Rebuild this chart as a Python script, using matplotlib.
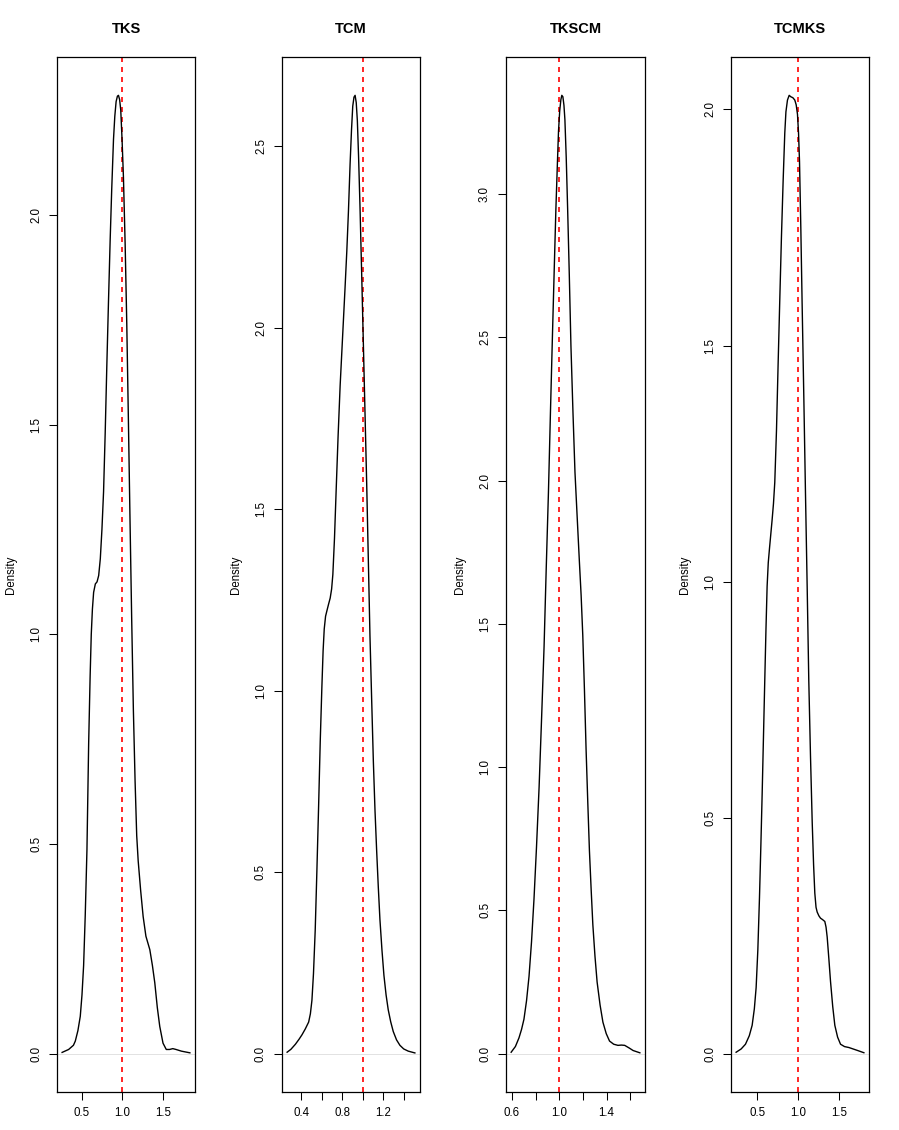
import matplotlib
matplotlib.use("Agg")
import matplotlib.pyplot as plt

plt.rcParams['font.family'] = ['Liberation Sans', 'DejaVu Sans']

# density curves (x, density)
tks_x = [0.261, 0.341, 0.400, 0.423, 0.455, 0.484, 0.505, 0.525, 0.545, 0.566, 0.587,
         0.605, 0.619, 0.633, 0.648, 0.669, 0.690, 0.710, 0.730, 0.750, 0.770, 0.790,
         0.810, 0.830, 0.851, 0.870, 0.892, 0.908, 0.924, 0.940, 0.953, 0.967, 0.981,
         0.997, 1.014, 1.035, 1.055, 1.075, 1.095, 1.115, 1.136, 1.157, 1.177, 1.195,
         1.225, 1.256, 1.290, 1.338, 1.370, 1.399, 1.430, 1.460, 1.500, 1.540, 1.580,
         1.620, 1.660, 1.726, 1.830]
tks_y = [0.003, 0.010, 0.020, 0.030, 0.055, 0.089, 0.140, 0.210, 0.330, 0.486, 0.740,
         0.900, 1.000, 1.060, 1.100, 1.120, 1.125, 1.140, 1.180, 1.250, 1.340, 1.480,
         1.640, 1.790, 1.940, 2.060, 2.180, 2.235, 2.270, 2.283, 2.285, 2.275, 2.250,
         2.180, 2.090, 1.930, 1.740, 1.510, 1.270, 1.040, 0.820, 0.650, 0.520, 0.460,
         0.390, 0.327, 0.280, 0.248, 0.210, 0.169, 0.110, 0.065, 0.025, 0.010, 0.010,
         0.012, 0.010, 0.006, 0.002]

tcm_x = [0.263, 0.300, 0.344, 0.380, 0.408, 0.440, 0.473, 0.490, 0.505, 0.520, 0.537,
         0.553, 0.570, 0.586, 0.602, 0.614, 0.625, 0.638, 0.651, 0.667, 0.683, 0.697,
         0.709, 0.725, 0.741, 0.760, 0.780, 0.796, 0.812, 0.828, 0.845, 0.861, 0.877,
         0.891, 0.903, 0.915, 0.926, 0.937, 0.948, 0.960, 0.974, 0.990, 1.007, 1.023,
         1.039, 1.055, 1.071, 1.088, 1.104, 1.120, 1.136, 1.152, 1.168, 1.188, 1.207,
         1.228, 1.249, 1.273, 1.298, 1.330, 1.363, 1.400, 1.444, 1.509]
tcm_y = [0.004, 0.012, 0.026, 0.040, 0.052, 0.068, 0.087, 0.110, 0.147, 0.220, 0.340,
         0.500, 0.680, 0.860, 1.010, 1.110, 1.170, 1.205, 1.220, 1.238, 1.255, 1.280,
         1.320, 1.420, 1.550, 1.700, 1.840, 1.930, 2.020, 2.110, 2.210, 2.320, 2.450,
         2.545, 2.610, 2.635, 2.640, 2.620, 2.570, 2.470, 2.330, 2.150, 1.950, 1.760,
         1.570, 1.360, 1.150, 0.970, 0.805, 0.670, 0.560, 0.460, 0.370, 0.285, 0.216,
         0.162, 0.121, 0.088, 0.061, 0.038, 0.023, 0.013, 0.007, 0.002]

tkscm_x = [0.594, 0.630, 0.660, 0.682, 0.702, 0.724, 0.745, 0.766, 0.787, 0.808, 0.830,
           0.851, 0.872, 0.890, 0.909, 0.926, 0.943, 0.958, 0.972, 0.984, 0.994, 1.004,
           1.014, 1.022, 1.031, 1.040, 1.048, 1.059, 1.071, 1.085, 1.099, 1.116, 1.133,
           1.152, 1.170, 1.185, 1.199, 1.213, 1.227, 1.241, 1.255, 1.270, 1.284, 1.302,
           1.320, 1.345, 1.369, 1.397, 1.425, 1.460, 1.496, 1.525, 1.553, 1.590, 1.624,
           1.681]
tkscm_y = [0.005, 0.025, 0.055, 0.085, 0.120, 0.185, 0.270, 0.390, 0.540, 0.720, 0.930,
           1.170, 1.420, 1.690, 1.960, 2.240, 2.510, 2.740, 2.950, 3.100, 3.220, 3.290,
           3.330, 3.345, 3.340, 3.310, 3.260, 3.130, 2.950, 2.720, 2.470, 2.240, 2.030,
           1.870, 1.720, 1.600, 1.460, 1.270, 1.060, 0.880, 0.710, 0.570, 0.450, 0.340,
           0.250, 0.170, 0.110, 0.070, 0.044, 0.033, 0.029, 0.030, 0.029, 0.020, 0.011,
           0.003]

tcmks_x = [0.238, 0.300, 0.353, 0.400, 0.435, 0.462, 0.484, 0.505, 0.525, 0.542, 0.558,
           0.574, 0.590, 0.605, 0.619, 0.633, 0.648, 0.664, 0.680, 0.697, 0.713, 0.734,
           0.754, 0.775, 0.795, 0.816, 0.836, 0.850, 0.869, 0.890, 0.910, 0.935, 0.959,
           0.976, 0.992, 1.005, 1.017, 1.033, 1.049, 1.070, 1.090, 1.111, 1.131, 1.152,
           1.173, 1.190, 1.205, 1.220, 1.234, 1.255, 1.275, 1.300, 1.328, 1.343, 1.357,
           1.378, 1.398, 1.425, 1.451, 1.485, 1.521, 1.570, 1.624, 1.726, 1.808]
tcmks_y = [0.003, 0.010, 0.020, 0.038, 0.060, 0.095, 0.140, 0.220, 0.330, 0.440, 0.550,
           0.670, 0.790, 0.900, 0.990, 1.040, 1.070, 1.100, 1.130, 1.165, 1.210, 1.320,
           1.460, 1.600, 1.730, 1.850, 1.950, 1.995, 2.020, 2.030, 2.027, 2.025, 2.020,
           2.010, 1.990, 1.950, 1.890, 1.750, 1.590, 1.390, 1.190, 0.990, 0.790, 0.630,
           0.490, 0.400, 0.340, 0.310, 0.300, 0.292, 0.287, 0.284, 0.280, 0.268, 0.247,
           0.200, 0.153, 0.100, 0.060, 0.035, 0.020, 0.015, 0.013, 0.007, 0.002]

titles = ["TKS", "TCM", "TKSCM", "TCMKS"]
curves = [(tks_x, tks_y), (tcm_x, tcm_y), (tkscm_x, tkscm_y), (tcmks_x, tcmks_y)]
x_ticks = [[0.5, 1.0, 1.5],
           [0.4, 0.6, 0.8, 1.0, 1.2, 1.4],
           [0.6, 0.8, 1.0, 1.2, 1.4, 1.6],
           [0.5, 1.0, 1.5]]
x_labels = [["0.5", "1.0", "1.5"],
            ["0.4", "", "0.8", "", "1.2", ""],
            ["0.6", "", "1.0", "", "1.4", ""],
            ["0.5", "1.0", "1.5"]]
y_ticks = [[0.0, 0.5, 1.0, 1.5, 2.0],
           [0.0, 0.5, 1.0, 1.5, 2.0, 2.5],
           [0.0, 0.5, 1.0, 1.5, 2.0, 2.5, 3.0],
           [0.0, 0.5, 1.0, 1.5, 2.0]]
ref_value = 1.0

W, H = 899, 1130
fig = plt.figure(figsize=(W / 100, H / 100), dpi=100)
lefts = [57, 282, 506, 731]
top, bottom = 57, 1092

for i in range(4):
    pw = 139 if i == 2 else 138
    ax = fig.add_axes([lefts[i] / W, 1 - bottom / H, pw / W, (bottom - top) / H])
    xs, ys = curves[i]
    # R style: range extended by 4 %
    xr = max(xs) - min(xs)
    ax.set_xlim(min(xs) - 0.04 * xr, max(xs) + 0.04 * xr)
    yr = max(ys)
    ax.set_ylim(-0.04 * yr, yr * 1.04)

    ax.axhline(0, color='#dddddd', lw=0.6, zorder=1)
    ax.plot(xs, ys, color='black', lw=1.0, zorder=3)
    ax.axvline(ref_value, color='red', lw=1.2, linestyle=(0, (3, 3)), zorder=2)

    ax.set_xticks(x_ticks[i])
    ax.set_xticklabels(x_labels[i])
    ax.set_yticks(y_ticks[i])
    ax.set_yticklabels([f"{v:.1f}" for v in y_ticks[i]], rotation=90, va='center')
    ax.tick_params(direction='out', length=5.8, width=0.75, labelsize=8.3, pad=5)
    for s in ax.spines.values():
        s.set_linewidth(0.9)

    ax.set_ylabel("Density", fontsize=8.3)
    ax.yaxis.set_label_coords(-40 / 138, 0.5)
    ax.text(0.5, 1 + 28 / (bottom - top), titles[i], transform=ax.transAxes,
            ha='center', va='center', fontsize=10.5, fontweight='bold')

fig.savefig("out.png", dpi=100)
